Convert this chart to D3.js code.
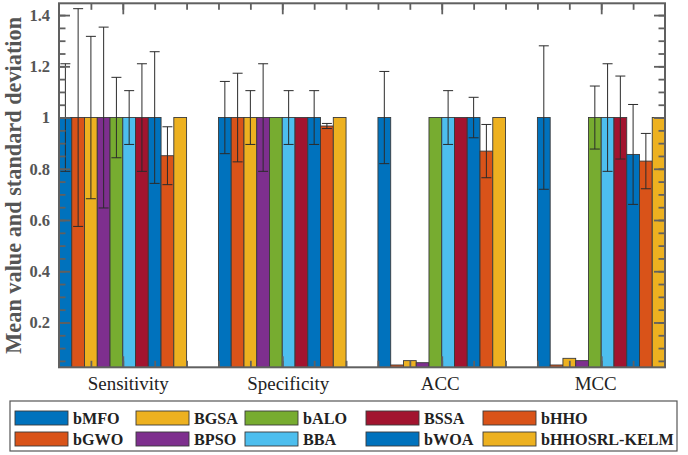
<!DOCTYPE html>
<html>
<head>
<meta charset="utf-8">
<script src="https://cdn.jsdelivr.net/npm/d3@7"></script>
<style>
  html, body { margin: 0; padding: 0; background: #fff; }
  svg { display: block; }
  text { font-family: "Liberation Serif", "Times New Roman", serif; }
</style>
</head>
<body>
<svg id="chart" width="688" height="455"></svg>
<script>
// ---------- data ----------
const categories = ["Sensitivity", "Specificity", "ACC", "MCC"];
const seriesNames = ["bMFO", "bGWO", "BGSA", "BPSO", "bALO", "BBA", "BSSA", "bWOA", "bHHO", "bHHOSRL-KELM"];
const seriesColors = ["#0072BD", "#D95319", "#EDB120", "#7E2F8E", "#77AC30", "#4DBEEE", "#A2142F", "#0072BD", "#D95319", "#EDB120"];

const sensitivityMean = [1, 1, 1, 1, 1, 1, 1, 1, 0.851, 1];
const sensitivityStd  = [0.21, 0.425, 0.317, 0.353, 0.157, 0.105, 0.21, 0.257, 0.113, 0];
const specificityMean = [1, 1, 1, 1, 1, 1, 1, 1, 0.967, 1];
const specificityStd  = [0.141, 0.173, 0.105, 0.21, 0, 0.105, 0, 0.105, 0.01, 0];
const accMean = [1, 0.034, 0.051, 0.043, 1, 1, 1, 1, 0.869, 1];
const accStd  = [0.18, 0, 0, 0, 0, 0.105, 0, 0.079, 0.104, 0];
const mccMean = [1, 0.034, 0.060, 0.051, 1, 1, 1, 0.856, 0.83, 1];
const mccStd  = [0.28, 0, 0, 0, 0.123, 0.21, 0.162, 0.195, 0.108, 0];

const yTickValues = [0.2, 0.4, 0.6, 0.8, 1, 1.2, 1.4];
const yLabel = "Mean value and standard deviation";

const means = [sensitivityMean, specificityMean, accMean, mccMean];
const stds = [sensitivityStd, specificityStd, accStd, mccStd];

// ---------- layout ----------
const svg = d3.select("#chart");
const L = 59, R = 665, T = 3.3, B = 367.3;
const axisColor = "#606060";
const labelColor = "#555";

const x = d3.scaleLinear().domain([0.6, 4.4]).range([L, R]);
const y = d3.scaleLinear().domain([0.025, 1.446]).range([B, T]);
const barW = 0.08;

function fitText(sel, targetLen, startSize) {
  sel.style("font-size", startSize + "px");
  const len = sel.node().getComputedTextLength();
  const size = startSize * targetLen / len;
  sel.style("font-size", size + "px");
  return size;
}

svg.append("defs").append("clipPath").attr("id", "plotclip")
  .append("rect").attr("x", L).attr("y", T).attr("width", R - L).attr("height", B - T);

const plot = svg.append("g").attr("clip-path", "url(#plotclip)");

// bars
const barData = [];
categories.forEach((c, gi) => {
  seriesNames.forEach((s, si) => {
    barData.push({ g: gi, s: si, m: means[gi][si], sd: stds[gi][si] });
  });
});
const xLeft = d => (d.g + 1) + (d.s - 5) * barW;
const xCenter = d => (d.g + 1) + (d.s - 4.5) * barW;

plot.selectAll("rect.bar").data(barData).enter().append("rect")
  .attr("class", "bar")
  .attr("x", d => x(xLeft(d)))
  .attr("width", d => x(xLeft(d) + barW) - x(xLeft(d)))
  .attr("y", d => y(d.m))
  .attr("height", d => y(0) - y(d.m))
  .attr("fill", d => seriesColors[d.s])
  .attr("stroke", "#3a3a3a")
  .attr("stroke-width", 0.9);

// error bars
const errData = barData.filter(d => d.sd > 0);
const capHalf = 5;
const eg = plot.append("g").attr("stroke", "#2b2b2b").attr("stroke-width", 1).attr("fill", "none");
eg.selectAll("line.v").data(errData).enter().append("line")
  .attr("x1", d => x(xCenter(d))).attr("x2", d => x(xCenter(d)))
  .attr("y1", d => y(d.m - d.sd)).attr("y2", d => y(d.m + d.sd));
eg.selectAll("line.t").data(errData).enter().append("line")
  .attr("x1", d => x(xCenter(d)) - capHalf).attr("x2", d => x(xCenter(d)) + capHalf)
  .attr("y1", d => y(d.m + d.sd)).attr("y2", d => y(d.m + d.sd));
eg.selectAll("line.b").data(errData).enter().append("line")
  .attr("x1", d => x(xCenter(d)) - capHalf).attr("x2", d => x(xCenter(d)) + capHalf)
  .attr("y1", d => y(d.m - d.sd)).attr("y2", d => y(d.m - d.sd));

// ---------- axes (ticks inward, box) ----------
const majorLen = 11, minorLen = 6.5;
const yMinor = d3.range(0.05, 1.446, 0.05).filter(v => v > 0.025);
const xMinor = d3.range(0.6, 4.4001, 0.2).filter(v => v > 0.61 && v < 4.39);

const axL = svg.append("g").attr("transform", `translate(${L},0)`)
  .call(d3.axisLeft(y).tickValues(yMinor).tickSize(-minorLen).tickFormat(""));
const axLM = svg.append("g").attr("transform", `translate(${L},0)`)
  .call(d3.axisLeft(y).tickValues(yTickValues).tickSize(-majorLen)
    .tickFormat(d => d3.format("")(d)));
const axR = svg.append("g").attr("transform", `translate(${R},0)`)
  .call(d3.axisRight(y).tickValues(yMinor).tickSize(-minorLen).tickFormat(""));
const axRM = svg.append("g").attr("transform", `translate(${R},0)`)
  .call(d3.axisRight(y).tickValues(yTickValues).tickSize(-majorLen).tickFormat(""));
const axB = svg.append("g").attr("transform", `translate(0,${B})`)
  .call(d3.axisBottom(x).tickValues(xMinor).tickSize(-minorLen).tickFormat(""));
const axBM = svg.append("g").attr("transform", `translate(0,${B})`)
  .call(d3.axisBottom(x).tickValues([1, 2, 3, 4]).tickSize(-majorLen)
    .tickFormat((d, i) => categories[i]));
const axT = svg.append("g").attr("transform", `translate(0,${T})`)
  .call(d3.axisTop(x).tickValues(xMinor).tickSize(-minorLen).tickFormat(""));
const axTM = svg.append("g").attr("transform", `translate(0,${T})`)
  .call(d3.axisTop(x).tickValues([1, 2, 3, 4]).tickSize(-majorLen).tickFormat(""));

[axL, axLM, axR, axRM, axB, axBM, axT, axTM].forEach(a => {
  a.select(".domain").remove();
  a.selectAll(".tick line").attr("stroke", axisColor).attr("stroke-width", 1.8);
});

axLM.selectAll(".tick text")
  .attr("x", -9)
  .attr("fill", labelColor)
  .style("font-size", "16.5px").style("font-weight", "bold");

// category labels: fit font so "Sensitivity" has the reference width
const catDx = [5, 5.5, -2, -6];
const catTexts = axBM.selectAll(".tick text");
const catSize = fitText(d3.select(catTexts.nodes()[0]), 81, 19);
catTexts
  .attr("y", 23)
  .attr("dy", "0")
  .attr("dx", (d, i) => catDx[i])
  .attr("fill", "#222")
  .style("font-size", catSize + "px");

// frame
svg.append("rect").attr("x", L).attr("y", T).attr("width", R - L).attr("height", B - T)
  .attr("fill", "none").attr("stroke", axisColor).attr("stroke-width", 2);

// y label
const yl = svg.append("text")
  .attr("transform", `translate(21,${(T + B) / 2}) rotate(-90)`)
  .attr("text-anchor", "middle")
  .attr("fill", labelColor)
  .style("font-weight", "bold")
  .text(yLabel);
fitText(yl, 337, 22);

// ---------- legend ----------
const lg = svg.append("g");
lg.append("rect").attr("x", 10).attr("y", 401).attr("width", 667).attr("height", 50)
  .attr("fill", "#fff").attr("stroke", "#555").attr("stroke-width", 1.2);
const colX = [15, 136, 245, 366, 483];
const rowY = [411, 432];
const legTexts = [];
seriesNames.forEach((s, i) => {
  const col = Math.floor(i / 2), row = i % 2;
  lg.append("rect").attr("x", colX[col]).attr("y", rowY[row])
    .attr("width", 53).attr("height", 14)
    .attr("fill", seriesColors[i]).attr("stroke", "#3a3a3a").attr("stroke-width", 0.9);
  legTexts.push(lg.append("text").attr("x", colX[col] + 58).attr("y", rowY[row] + 13)
    .attr("fill", "#222")
    .style("font-weight", "bold")
    .text(s));
});
const legSize = fitText(legTexts[9], 133, 16);
legTexts.forEach(t => t.style("font-size", legSize + "px"));
</script>
</body>
</html>
